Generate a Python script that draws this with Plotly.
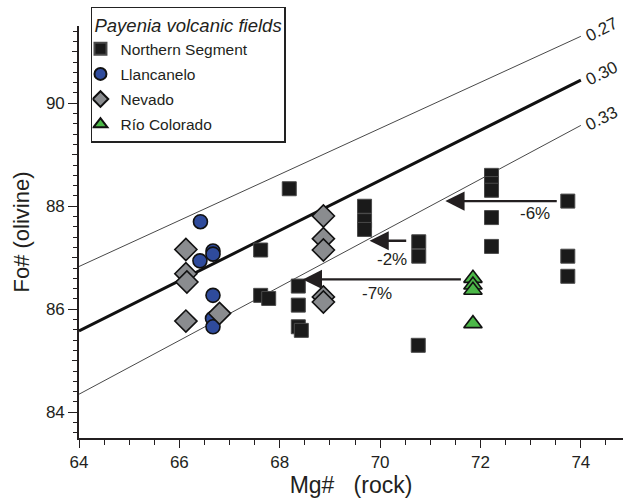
import plotly.graph_objects as go

# ---------------- data ----------------
ns_mg = [67.62, 68.19, 67.62, 67.78, 68.37, 68.37, 68.37, 68.43, 69.69, 69.69, 69.69,
         70.77, 70.77, 70.76, 72.22, 72.22, 72.22, 72.22, 72.22, 73.74, 73.74, 73.74]
ns_fo = [87.15, 88.34, 86.27, 86.21, 86.45, 86.08, 85.66, 85.59, 88.00, 87.72, 87.55,
         87.31, 87.03, 85.30, 88.60, 88.44, 88.31, 87.78, 87.22, 88.10, 87.03, 86.64]

ll_mg = [66.42, 66.67, 66.67, 66.41, 66.67, 66.66, 66.67]
ll_fo = [87.70, 87.13, 87.07, 86.94, 86.27, 85.82, 85.66]

nv_mg = [66.13, 66.13, 66.15, 66.80, 66.13, 68.87, 68.87, 68.87, 68.87, 68.87]
nv_fo = [87.16, 86.69, 86.53, 85.92, 85.77, 87.81, 87.37, 87.15, 86.24, 86.14]

rc_mg = [71.85, 71.85, 71.85, 71.85]
rc_fo = [86.60, 86.47, 86.37, 85.72]

# Kd reference lines (end points)
kd_mg = [64.0, 74.0]
kd_027 = [86.83, 91.30]
kd_030 = [85.58, 90.45]
kd_033 = [84.35, 89.57]
kd_labels = ["0.27", "0.30", "0.33"]

# arrows: tail Mg, tip Mg, Fo, label text and label position
arr_tail = [73.55, 70.55, 71.64]
arr_tip = [71.30, 69.79, 68.46]
arr_fo = [88.10, 87.33, 86.58]
arr_text = ["-6%", "-2%", "-7%"]
arr_txt_mg = [73.09, 70.24, 69.94]
arr_txt_fo = [87.86, 86.97, 86.31]

FONT = "Liberation Sans, Arial, sans-serif"
INK = "#231f20"

fig = go.Figure()

# Kd lines
fig.add_trace(go.Scatter(x=kd_mg, y=kd_027, mode="lines", line=dict(color="#333", width=0.9),
                         showlegend=False, hoverinfo="skip"))
fig.add_trace(go.Scatter(x=kd_mg, y=kd_030, mode="lines", line=dict(color="#111", width=3),
                         showlegend=False, hoverinfo="skip"))
fig.add_trace(go.Scatter(x=kd_mg, y=kd_033, mode="lines", line=dict(color="#333", width=0.9),
                         showlegend=False, hoverinfo="skip"))

fig.add_trace(go.Scatter(x=ns_mg, y=ns_fo, mode="markers", name="Northern Segment", legendgroup="a",
                         marker=dict(symbol="square", size=14, color="#1a1a1a",
                                     line=dict(color="#4a4a4a", width=1))))
fig.add_trace(go.Scatter(x=ll_mg, y=ll_fo, mode="markers", name="Llancanelo", legendgroup="b",
                         marker=dict(symbol="circle", size=14, color="#2f4b9c",
                                     line=dict(color="#111", width=1.6))))
fig.add_trace(go.Scatter(x=nv_mg, y=nv_fo, mode="markers", name="Nevado", legendgroup="c",
                         marker=dict(symbol="diamond", size=17, color="#8a8c8f",
                                     line=dict(color="#111", width=1.6))))
fig.add_trace(go.Scatter(x=rc_mg, y=rc_fo, mode="markers", name="Río Colorado", legendgroup="d",
                         marker=dict(symbol="triangle-up", size=16, color="#4cb848",
                                     line=dict(color="#111", width=1.6))))

# dummy trace for secondary (odd-integer) y ticks
fig.add_trace(go.Scatter(x=[None], y=[None], yaxis="y2", showlegend=False, hoverinfo="skip"))

ann = []
for i in range(3):
    ann.append(dict(x=arr_tip[i], y=arr_fo[i], ax=arr_tail[i], ay=arr_fo[i],
                    xref="x", yref="y", axref="x", ayref="y", text="", showarrow=True,
                    arrowhead=2, arrowsize=1.6, arrowwidth=2.4, arrowcolor=INK))
    ann.append(dict(x=arr_txt_mg[i], y=arr_txt_fo[i], xref="x", yref="y", text=arr_text[i],
                    showarrow=False, font=dict(family=FONT, size=17, color=INK)))

kd_end = [kd_027[1], kd_030[1], kd_033[1]]
for lab, yv in zip(kd_labels, kd_end):
    ann.append(dict(x=kd_mg[1], y=yv, xref="x", yref="y", text=lab, showarrow=False,
                    xanchor="left", yanchor="middle", textangle=-27, xshift=-1, yshift=7,
                    font=dict(family=FONT, size=17, color=INK)))

fig.update_layout(
    width=625, height=499,
    margin=dict(l=79, r=2, t=26, b=61),
    paper_bgcolor="white", plot_bgcolor="white",
    font=dict(family=FONT, color=INK, size=17),
    showlegend=True,
    legend=dict(x=0.022, y=1.047, xanchor="left", yanchor="top",
                bgcolor="white", bordercolor="#222", borderwidth=1.5,
                font=dict(family=FONT, size=15.5, color=INK),
                title=dict(text="<i>Payenia volcanic fields</i>",
                           font=dict(family=FONT, size=18.5, color=INK)),
                tracegroupgap=2, itemsizing="constant", indentation=-12),
    xaxis=dict(range=[64, 74.84], tickmode="linear", tick0=64, dtick=2,
               ticks="outside", ticklen=8, tickwidth=1.3, tickcolor=INK,
               showline=True, linecolor=INK, linewidth=1.6, showgrid=False, zeroline=False,
               minor=dict(dtick=0.5, ticklen=5, tickwidth=1.2, tickcolor=INK, ticks="outside", showgrid=False),
               tickfont=dict(family=FONT, size=17, color=INK),
               title=dict(text="Mg#\u00a0\u00a0\u00a0(rock)", font=dict(family=FONT, size=23, color=INK),
                          standoff=5)),
    yaxis=dict(range=[83.5, 91.5], tickmode="linear", tick0=84, dtick=2,
               ticks="outside", ticklen=9, tickwidth=1.3, tickcolor=INK,
               showline=True, linecolor=INK, linewidth=1.6, showgrid=False, zeroline=False,
               minor=dict(dtick=0.2, tick0=84, ticklen=4, tickwidth=1.1, tickcolor=INK, ticks="outside", showgrid=False),
               tickfont=dict(family=FONT, size=17, color=INK),
               title=dict(text="Fo#\u00a0(olivine)", font=dict(family=FONT, size=22, color=INK),
                          standoff=10)),
    yaxis2=dict(range=[83.5, 91.5], overlaying="y", side="left", anchor="x",
                tickmode="linear", tick0=85, dtick=2, ticks="outside", ticklen=6,
                tickwidth=1.2, tickcolor=INK, showticklabels=False, showline=False,
                showgrid=False, zeroline=False),
    annotations=ann,
)

fig.write_html("out.html")
